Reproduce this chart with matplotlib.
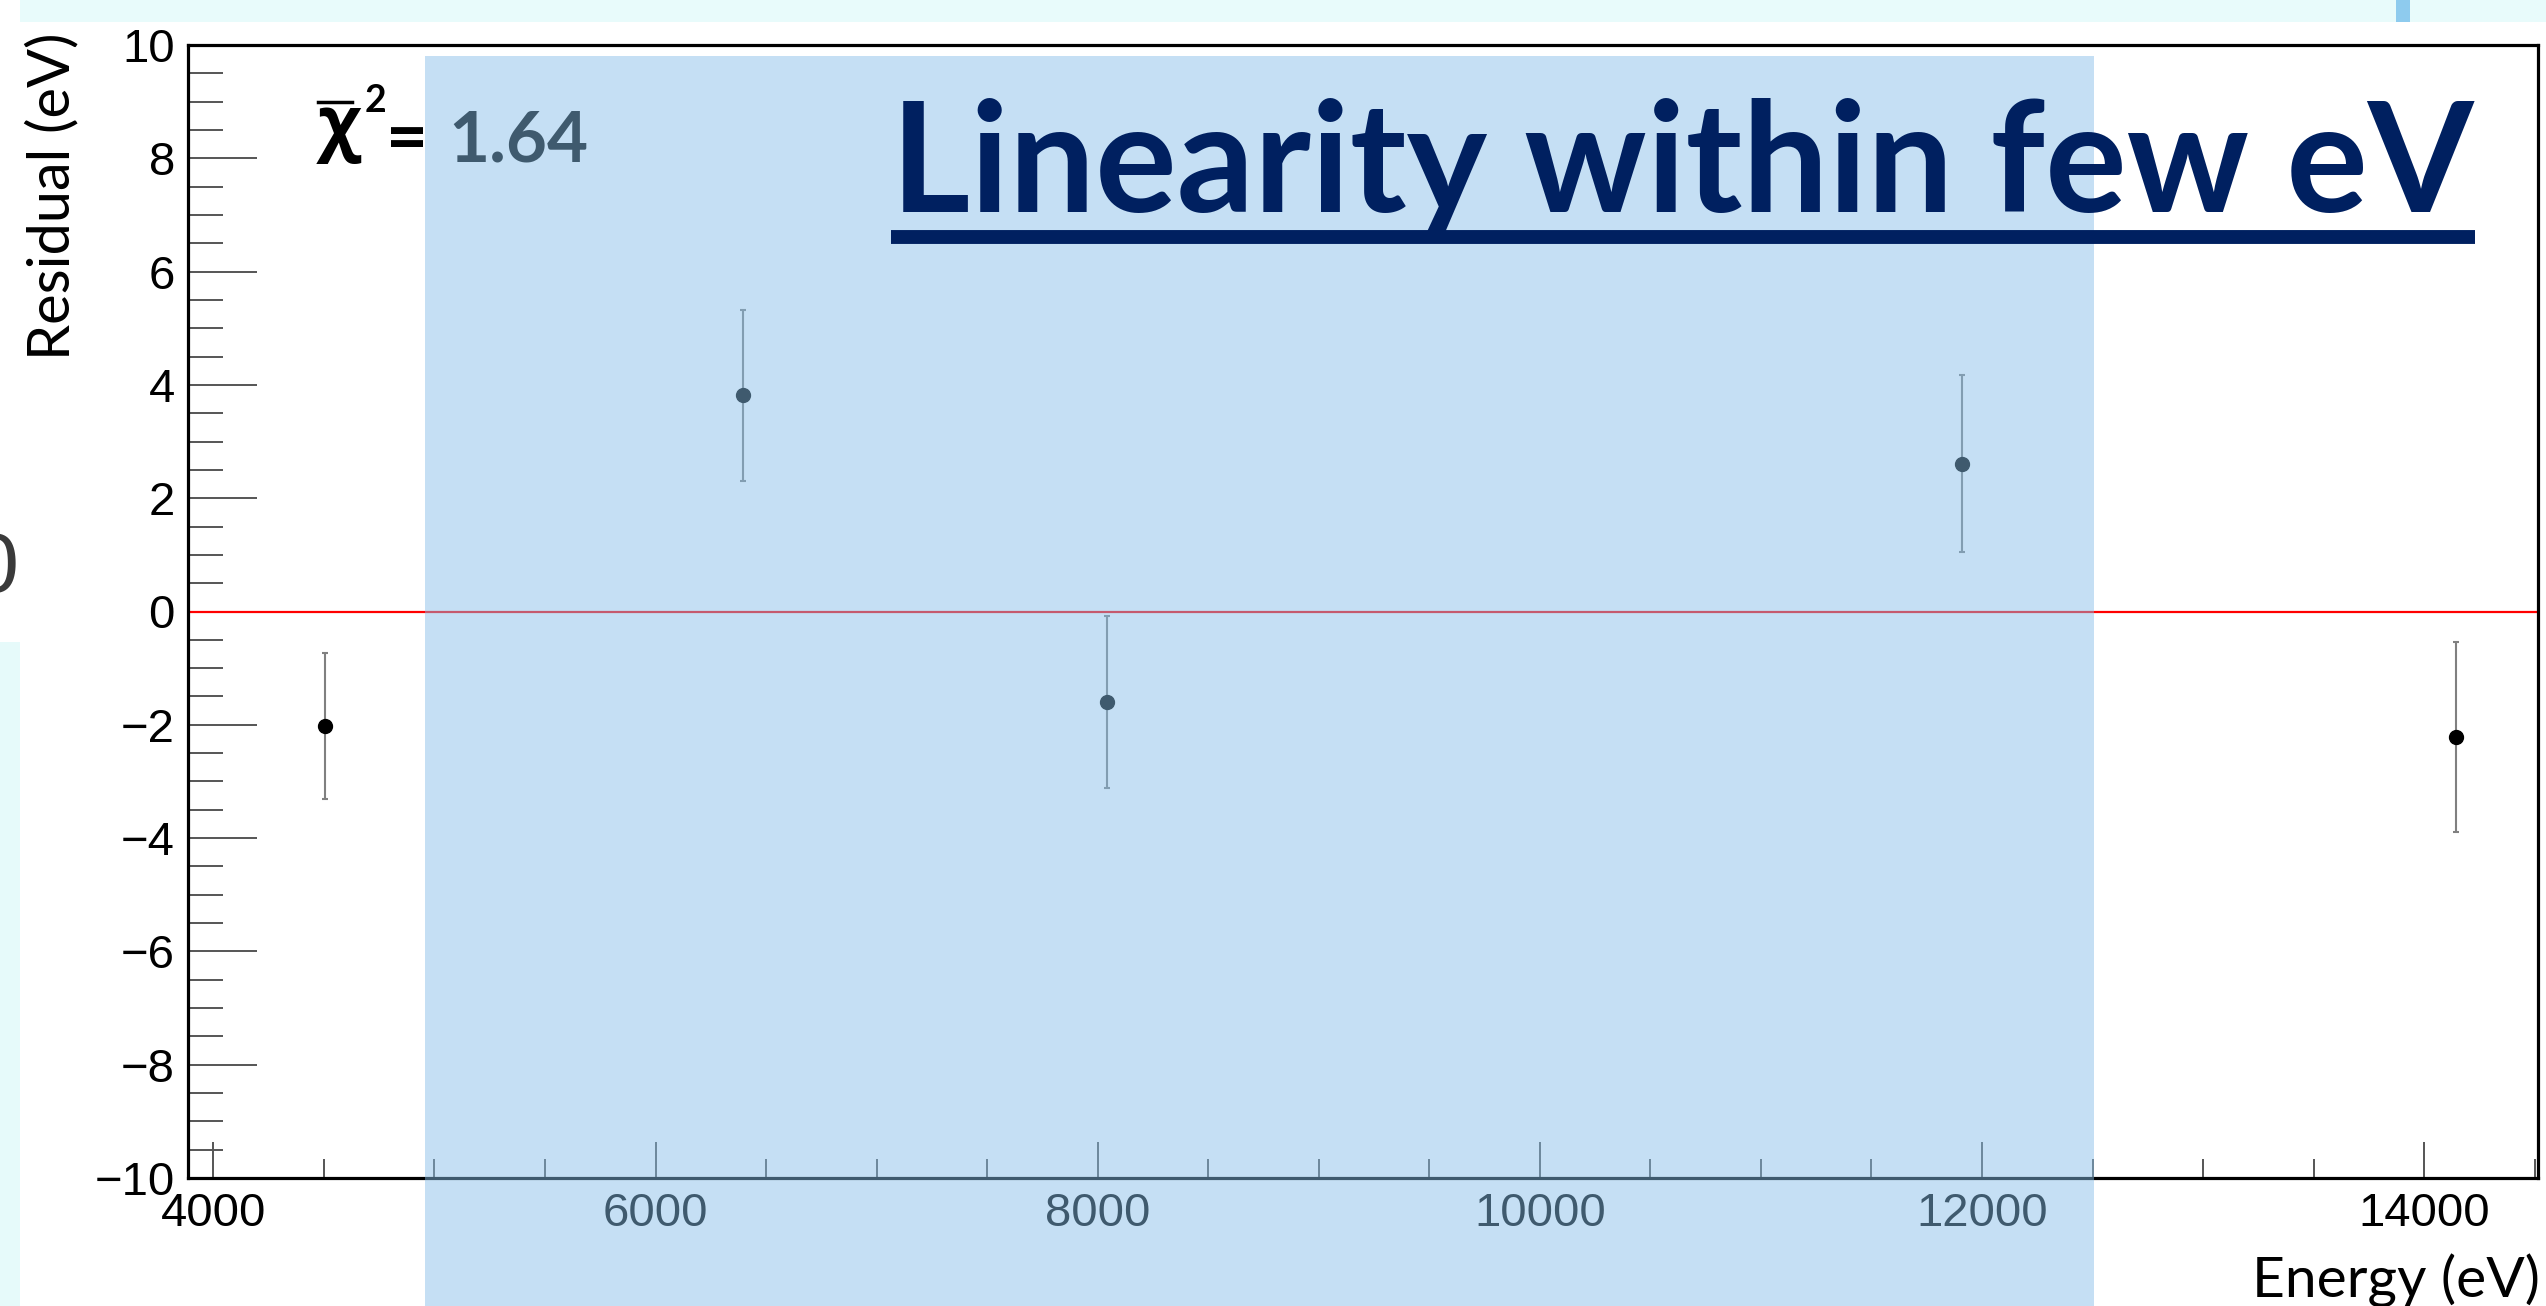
import matplotlib
matplotlib.use("Agg")
import matplotlib.pyplot as plt
from matplotlib.patches import Rectangle
from matplotlib.lines import Line2D
from matplotlib.ticker import MultipleLocator, FixedLocator

# datos
energia = [4503, 6395, 8040, 11909, 14143]
residuo = [-2.02, 3.82, -1.60, 2.61, -2.21]
error = [1.29, 1.51, 1.52, 1.56, 1.68]

x_ticks = [4000, 6000, 8000, 10000, 12000, 14000]
y_ticks = [-10, -8, -6, -4, -2, 0, 2, 4, 6, 8, 10]
chi2_text = "1.64"
titulo = "Linearity within few eV"

W, H = 2546, 1306


def fx(x):
    return x / W


def fy(y):
    return 1 - y / H


fig = plt.figure(figsize=(W / 100, H / 100), dpi=100)
fig.patch.set_facecolor("white")
renderer = fig.canvas.get_renderer()


def ajustar_ancho(t, ancho):
    bb = t.get_window_extent(renderer)
    t.set_fontsize(t.get_fontsize() * ancho / bb.width)


# fondo de la diapositiva
fig.add_artist(Rectangle((fx(20), fy(22)), 1, 22 / H, transform=fig.transFigure,
                         color="#e8fbfb", lw=0, zorder=-5))
fig.add_artist(Rectangle((0, 0), fx(20), 1 - 642 / H, transform=fig.transFigure,
                         color="#e6fafa", lw=0, zorder=-5))
fig.add_artist(Rectangle((fx(2396), fy(22)), 14 / W, 22 / H, transform=fig.transFigure,
                         color="#8ecbee", lw=0, zorder=-4))
fig.text(fx(19), fy(592), "0", fontfamily="Liberation Sans", fontsize=62,
         color="#3a3a3a", ha="right", va="baseline", zorder=-3)

# ejes
ax = fig.add_axes([fx(188), 1 - 1178 / H, (2538 - 188) / W, (1178 - 45) / H])
ax.set_xlim(3885, 14515)
ax.set_ylim(-10, 10)

ax.axhline(0, color="#ff0000", lw=1.6, zorder=2)
ax.errorbar(energia, residuo, yerr=error, fmt="o", color="black", ecolor="#808080",
            elinewidth=1.5, capsize=2.5, capthick=1.5, ms=10, zorder=3)

ax.xaxis.set_major_locator(FixedLocator(x_ticks))
ax.xaxis.set_minor_locator(MultipleLocator(500))
ax.yaxis.set_major_locator(FixedLocator(y_ticks))
ax.yaxis.set_minor_locator(MultipleLocator(0.5))

for s in ax.spines.values():
    s.set_linewidth(2.3)
    s.set_color("black")

ax.tick_params(axis="both", which="both", direction="in", color="#555555", width=1.4,
               top=False, right=False)
ax.tick_params(axis="y", which="major", length=50, pad=9.5)
ax.tick_params(axis="y", which="minor", length=25)
ax.tick_params(axis="x", which="major", length=26, pad=10)
ax.tick_params(axis="x", which="minor", length=13.7)
for lab in ax.get_xticklabels() + ax.get_yticklabels():
    lab.set_fontfamily("Liberation Sans")
    lab.set_fontsize(34)

# etiquetas de los ejes
ty = fig.text(fx(53), fy(196), "Residual (eV)", fontfamily="Lato", fontsize=38,
              rotation=90, ha="center", va="center")
tx = fig.text(fx(2540), fy(1297), "Energy (eV)", fontfamily="Lato", fontsize=38,
              ha="right", va="baseline")

# chi cuadrado reducido (debajo del recuadro azul)
fig.text(fx(318), fy(147), "χ", fontfamily="Open Sans", fontweight="bold",
         fontsize=52, ha="left", va="baseline", zorder=0.5)
fig.add_artist(Line2D([fx(318), fx(352)], [fy(101.5), fy(101.5)], color="black",
                      lw=2.5, transform=fig.transFigure, zorder=0.5))
fig.text(fx(365), fy(112), "2", fontfamily="Lato", fontweight="bold",
         fontsize=27, ha="left", va="baseline", zorder=0.5)
fig.text(fx(386), fy(162), "=", fontfamily="Lato", fontweight="bold",
         fontsize=52, ha="left", va="baseline", zorder=0.5)
fig.text(fx(448), fy(162), chi2_text, fontfamily="Lato", fontweight="bold",
         fontsize=51, ha="left", va="baseline", zorder=0.5)

# recuadro azul semitransparente
fig.add_artist(Rectangle((fx(425), 0), (2094 - 425) / W, 1 - 56 / H,
                         transform=fig.transFigure, facecolor="#86bee8",
                         alpha=0.48, lw=0, zorder=1))

# titulo subrayado
tt = fig.text(fx(891), fy(212), titulo, fontfamily="Lato", fontweight="bold",
              fontsize=100, color="#002060", ha="left", va="baseline", zorder=5)
fig.add_artist(Line2D([fx(891), fx(2475)], [fy(237), fy(237)], color="#002060",
                      lw=10, solid_capstyle="butt", transform=fig.transFigure, zorder=5))

ajustar_ancho(tt, 1582)
ajustar_ancho(tx, 288)
bb = ty.get_window_extent(renderer)
ty.set_fontsize(ty.get_fontsize() * 327 / bb.height)

fig.savefig("out.png", dpi=100)
